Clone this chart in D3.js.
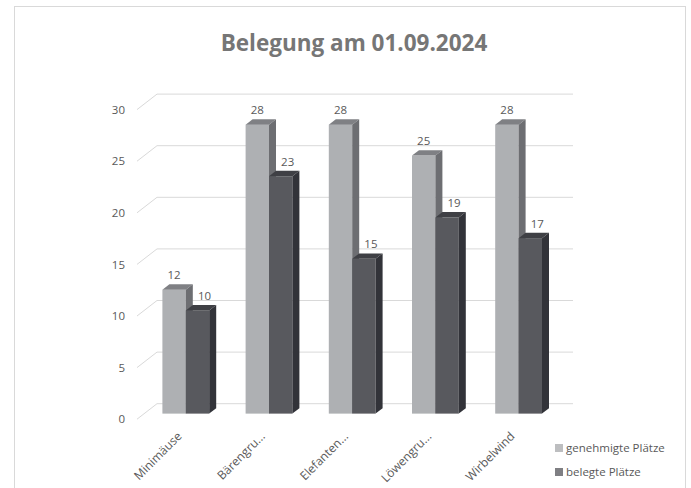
<!DOCTYPE html>
<html><head><meta charset="utf-8">
<script src="https://cdn.jsdelivr.net/npm/d3@7"></script>
<style>body{margin:0;background:#fff}svg{display:block}text{font-family:"Open Sans",sans-serif}</style>
</head><body><svg id="c" width="691" height="488"></svg>
<script>
const title = "Belegung am 01.09.2024";
const categories = ["Minimäuse", "Bärengru...", "Elefanten...", "Löwengru...", "Wirbelwind"];
const seriesNames = ["genehmigte Plätze", "belegte Plätze"];
const genehmigt = [12, 28, 28, 25, 28];
const belegt = [10, 23, 15, 19, 17];
const yTicks = [0, 5, 10, 15, 20, 25, 30];

const colors = {
  "genehmigte Plätze": {front:"#AEB0B3", top:"#7F8084", side:"#6D6E72", legend:"#BDBEC0", labelShift:0},
  "belegte Plätze": {front:"#58595E", top:"#3F4045", side:"#323339", legend:"#7F7F83", labelShift:7}
};
const seriesData = {"genehmigte Plätze": genehmigt, "belegte Plätze": belegt};

const svg = d3.select("#c");
svg.append("rect").attr("x",14.5).attr("y",6.5).attr("width",671).attr("height",490)
  .attr("fill","#fff").attr("stroke","#D9D9D9").attr("stroke-width",1);

const frontX0 = 137, frontX1 = 553, frontY0 = 419.2;
const D = {x:20, y:-15.5};
const x = d3.scaleBand().domain(categories).range([frontX0, frontX1]);
const xi = d3.scaleBand().domain(seriesNames).range([18.2, 65]);
const y = d3.scaleLinear().domain([0,30]).range([0, 309.6]);

const g = svg.append("g");
yTicks.forEach(t => {
  const fy = frontY0 - y(t);
  g.append("line").attr("x1",frontX0).attr("y1",fy).attr("x2",frontX0+D.x).attr("y2",fy+D.y)
    .attr("stroke","#D9D9D9").attr("stroke-width",1);
  g.append("line").attr("x1",frontX0+D.x).attr("y1",fy+D.y).attr("x2",frontX1+D.x).attr("y2",fy+D.y)
    .attr("stroke","#D9D9D9").attr("stroke-width",1);
});

const yAxisScale = d3.scaleLinear().domain([0,30]).range([frontY0, frontY0 - 309.6]);
const ya = svg.append("g").attr("transform",`translate(${frontX0},0)`)
  .call(d3.axisLeft(yAxisScale).tickValues(yTicks).tickSize(0).tickPadding(12));
ya.select(".domain").remove();
ya.selectAll("text").attr("font-family","Open Sans").attr("font-size",11.5).attr("fill","#595959");

const t0 = 0.36, t1 = 0.71;
const bdx = (t1-t0)*D.x, bdy = (t1-t0)*D.y;
const bars = svg.append("g");
categories.forEach((c,i) => {
  seriesNames.forEach(s => {
    const v = seriesData[s][i];
    const col = colors[s];
    const x1 = x(c) + xi(s) + t0*D.x;
    const x2 = x1 + xi.bandwidth();
    const yb = frontY0 + t0*D.y;
    const yt = yb - y(v);
    bars.append("rect").attr("x",x1).attr("y",yt).attr("width",x2-x1).attr("height",yb-yt).attr("fill",col.front);
    bars.append("path").attr("d",`M${x1},${yt}L${x2},${yt}L${x2+bdx},${yt+bdy}L${x1+bdx},${yt+bdy}Z`).attr("fill",col.top);
    bars.append("path").attr("d",`M${x2},${yt}L${x2+bdx},${yt+bdy}L${x2+bdx},${yb+bdy}L${x2},${yb}Z`).attr("fill",col.side);
    bars.append("text").attr("x",(x1+x2)/2 + col.labelShift).attr("y",yt-10.5).attr("text-anchor","middle")
      .attr("font-size",11.5).attr("fill","#595959").text(v);
  });
});

categories.forEach(c => {
  const cx = x(c) + x.bandwidth()/2 + 4;
  const cy = 437;
  svg.append("text").attr("transform",`translate(${cx},${cy}) rotate(-45)`)
    .attr("text-anchor","end").attr("font-size",12).attr("fill","#595959").text(c);
});

svg.append("text").attr("x",354).attr("y",51).attr("text-anchor","middle")
  .attr("font-size",22.5).attr("font-weight","bold").attr("fill","#767676").text(title);

seriesNames.forEach((s,k) => {
  const ly = 448 + k*24;
  svg.append("rect").attr("x",555).attr("y",ly-4).attr("width",8).attr("height",8).attr("fill",colors[s].legend);
  svg.append("text").attr("x",566).attr("y",ly+4).attr("font-size",11.5).attr("fill","#595959").text(s);
});
</script></body></html>
